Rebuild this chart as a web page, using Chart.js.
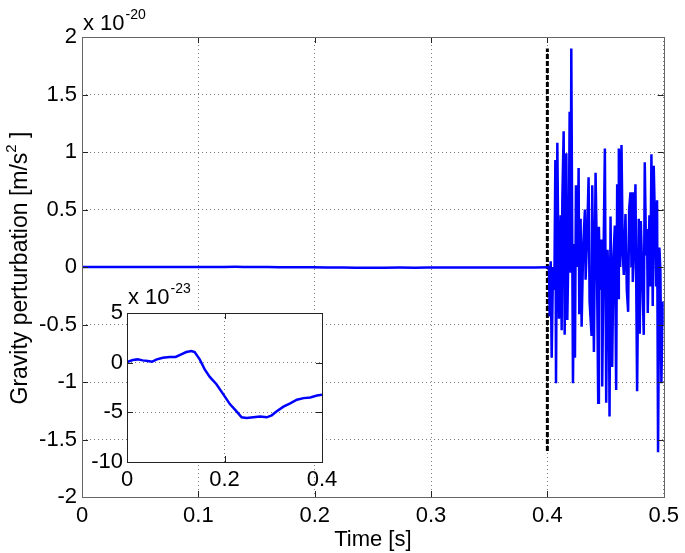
<!DOCTYPE html>
<html>
<head>
<meta charset="utf-8">
<script src="https://cdn.jsdelivr.net/npm/chart.js@4.4.0/dist/chart.umd.min.js"></script>
<style>
  html, body { margin: 0; padding: 0; background: #fff; }
  #wrap { position: relative; width: 685px; height: 553px; }
  #wrap canvas { position: absolute; left: 0; top: 0; }
</style>
</head>
<body>
<div id="wrap">
  <canvas id="main" width="685" height="553"></canvas>
  <canvas id="inset" width="685" height="553"></canvas>
</div>
<script>
// inset series: 0 .. 0.4 s, units of 1e-23 m/s^2
const insetTime = [0, 0.0117, 0.022, 0.0323, 0.0426, 0.0515, 0.0612, 0.0735, 0.0873, 0.0997,
  0.1113, 0.1216, 0.132, 0.1388, 0.1491, 0.1594, 0.1698, 0.1835, 0.1973, 0.211,
  0.2247, 0.2351, 0.2454, 0.2591, 0.2729, 0.2866, 0.2969, 0.3072, 0.321, 0.3347,
  0.3485, 0.3622, 0.3759, 0.3897, 0.4];
const insetValue = [0.07, 0.27, 0.33, 0.23, 0.17, 0.1, 0.33, 0.5, 0.57, 0.57,
  0.83, 1.07, 1.17, 1.07, 0.33, -0.67, -1.43, -2.17, -3.17, -4.17,
  -4.9, -5.5, -5.57, -5.5, -5.43, -5.5, -5.3, -4.9, -4.43, -4.1,
  -3.73, -3.57, -3.5, -3.3, -3.23];

// main series after 0.4 s, units of 1e-20 m/s^2
const noiseTime = [0.40143, 0.402, 0.40286, 0.40371, 0.40486, 0.406, 0.40686, 0.40743, 0.40857, 0.40943,
  0.41, 0.41143, 0.41229, 0.41286, 0.414, 0.41486, 0.41629, 0.41714, 0.41857, 0.41914,
  0.42, 0.42057, 0.42143, 0.422, 0.42314, 0.42371, 0.42457, 0.426, 0.42686, 0.42743,
  0.42857, 0.42943, 0.43086, 0.43229, 0.43286, 0.43429, 0.43543, 0.43629, 0.438, 0.43857,
  0.44, 0.44143, 0.44257, 0.44371, 0.44429, 0.44543, 0.44657, 0.44714, 0.44829, 0.44943,
  0.45057, 0.45171, 0.45286, 0.45343, 0.45429, 0.45571, 0.45686, 0.458, 0.45914, 0.46,
  0.46086, 0.46143, 0.46257, 0.46371, 0.46486, 0.46571, 0.46714, 0.46829, 0.46943, 0.47029,
  0.47143, 0.47229, 0.47286, 0.47343, 0.47457, 0.47571, 0.47714, 0.47857, 0.47943, 0.48029,
  0.48143, 0.48286, 0.48371, 0.48486, 0.48571, 0.48629, 0.48771, 0.48857, 0.48943, 0.49057,
  0.49143, 0.49286, 0.49343, 0.49429, 0.49514, 0.49629, 0.49714, 0.498, 0.49914, 0.5];
const noiseValue = [0.0, -0.43, 0.05, -0.79, 0.0, -0.2, 0.93, -1.01, 1.08, 0.1,
  -0.45, 0.45, -0.55, 0.58, 1.18, -0.59, 0.99, -0.46, 0.45, 1.35,
  -0.05, 1.9, 0.1, -1.01, 0.2, -0.79, 0.71, 0.0, 0.86, -0.41,
  0.42, -0.52, 0.2, 0.5, -0.11, 0.3, 0.78, -0.3, -0.6, 0.71,
  -0.74, 0.82, 0.1, -1.18, 0.35, -0.2, 0.24, -1.04, 0.1, 1.03,
  -1.18, 0.15, -0.2, -1.3, 0.44, -0.87, 0.1, 0.36, -1.07, 0.72,
  -0.27, 1.03, 0.0, 1.06, 0.1, -0.07, 0.46, -0.2, -0.39, 0.5,
  0.65, 0.0, 0.65, -0.13, 0.2, 0.72, -1.08, 0.42, -0.58, 0.4,
  0.0, -0.59, 0.91, 0.1, 0.33, -0.4, 0.45, -0.17, 0.98, -0.34,
  0.88, 0.2, -0.17, 0.58, -1.61, 0.17, -0.03, -1.01, -0.3, -0.51];

const markerTime = 0.4;
const markerRange = [-1.6, 1.9];

const mainXTicks = [0, 0.1, 0.2, 0.3, 0.4, 0.5];
const mainYTicks = [-2, -1.5, -1, -0.5, 0, 0.5, 1, 1.5, 2];
const insetXTicks = [0, 0.2, 0.4];
const insetYTicks = [-10, -5, 0, 5];

const FONT = "'Liberation Sans', Arial, Helvetica, sans-serif";

function fmt(v) {
  if (v === 0) return "0";
  return Number.isInteger(v) ? String(v) : String(Math.round(v * 10) / 10);
}

function fixedTicks(list) {
  return (scale) => { scale.ticks = list.map((v) => ({ value: v })); };
}

// white plot area, box, inward tick marks
const frame = {
  id: "frame",
  beforeDraw(chart) {
    const a = chart.chartArea, c = chart.ctx;
    c.save();
    c.fillStyle = "#fff";
    c.fillRect(a.left, a.top, a.right - a.left, a.bottom - a.top);
    c.restore();
  },
  afterDatasetsDraw(chart) {
    const a = chart.chartArea, c = chart.ctx;
    const xs = chart.scales.x, ys = chart.scales.y;
    c.save();
    c.strokeStyle = "#222";
    c.lineWidth = 1;
    c.beginPath();
    xs.ticks.forEach((t) => {
      const px = Math.round(xs.getPixelForValue(t.value)) + 0.5;
      c.moveTo(px, a.bottom); c.lineTo(px, a.bottom - 6);
      c.moveTo(px, a.top); c.lineTo(px, a.top + 6);
    });
    ys.ticks.forEach((t) => {
      const py = Math.round(ys.getPixelForValue(t.value)) + 0.5;
      c.moveTo(a.left, py); c.lineTo(a.left + 6, py);
      c.moveTo(a.right, py); c.lineTo(a.right - 6, py);
    });
    c.stroke();
    c.strokeStyle = chart.options.frameColor || "#555";
    c.strokeRect(Math.round(a.left) + 0.5, Math.round(a.top) + 0.5,
      Math.round(a.right - a.left), Math.round(a.bottom - a.top));
    c.restore();
  },
};

function drawExponent(c, x, y, exp) {
  c.save();
  c.fillStyle = "#000";
  c.textBaseline = "alphabetic";
  c.textAlign = "left";
  c.font = "22px " + FONT;
  c.fillText("x 10", x, y);
  const w = c.measureText("x 10").width;
  c.font = "14px " + FONT;
  c.fillText(exp, x + w + 1, y - 11);
  c.restore();
}

const mainText = {
  id: "mainText",
  afterDraw(chart) {
    const c = chart.ctx;
    drawExponent(c, 83, 30, "-20");
    // y title with superscript
    c.save();
    c.fillStyle = "#000";
    c.translate(27, 268);
    c.rotate(-Math.PI / 2);
    c.textBaseline = "alphabetic";
    c.textAlign = "left";
    const big = "23px " + FONT, small = "15px " + FONT;
    c.font = big;
    const p1 = "Gravity perturbation [m/s", p3 = " ]";
    const w1 = c.measureText(p1).width, w3 = c.measureText(p3).width;
    c.font = small;
    const w2 = c.measureText("2").width;
    let x = -(w1 + w2 + w3) / 2;
    c.font = big; c.fillText(p1, x, 0); x += w1;
    c.font = small; c.fillText("2", x, -11); x += w2;
    c.font = big; c.fillText(p3, x, 0);
    c.restore();
  },
};

const insetText = {
  id: "insetText",
  afterDraw(chart) {
    drawExponent(chart.ctx, 128, 304, "-23");
  },
};

const gridStyle = { color: "rgba(0,0,0,0.5)", lineWidth: 1, drawTicks: false };
const dotted = { dash: [1, 3] };

const mainData = insetTime.map((t, i) => ({ x: t, y: insetValue[i] / 1000 }))
  .concat(noiseTime.map((t, i) => ({ x: t, y: noiseValue[i] })));

new Chart(document.getElementById("main"), {
  type: "line",
  data: {
    datasets: [
      {
        data: mainData,
        borderColor: "#0000ff",
        borderWidth: 2.5,
        pointRadius: 0,
        tension: 0,
      },
      {
        data: markerRange.map((v) => ({ x: markerTime, y: v })),
        borderColor: "#000",
        borderWidth: 3,
        borderDash: [5, 2],
        pointRadius: 0,
      },
    ],
  },
  options: {
    responsive: false,
    animation: false,
    events: [],
    frameColor: "#666",
    layout: { padding: { left: 0, right: 21, top: 37, bottom: 0 } },
    plugins: { legend: { display: false }, tooltip: { enabled: false } },
    scales: {
      x: {
        type: "linear", min: 0, max: 0.5,
        afterBuildTicks: fixedTicks(mainXTicks),
        afterFit: (s) => { s.height = 56; },
        grid: gridStyle, border: { display: false, ...dotted },
        title: { display: true, text: "Time [s]", color: "#000", font: { family: FONT, size: 22 }, padding: { top: 0, bottom: 0 } },
        ticks: { color: "#000", font: { family: FONT, size: 22 }, padding: 6, callback: fmt, maxRotation: 0 },
      },
      y: {
        type: "linear", min: -2, max: 2,
        afterBuildTicks: fixedTicks(mainYTicks),
        afterFit: (s) => { s.width = 82; },
        grid: gridStyle, border: { display: false, ...dotted },
        ticks: { color: "#000", font: { family: FONT, size: 22 }, padding: 5, callback: fmt },
      },
    },
  },
  plugins: [frame, mainText],
});

new Chart(document.getElementById("inset"), {
  type: "line",
  data: {
    datasets: [{
      data: insetTime.map((t, i) => ({ x: t, y: insetValue[i] })),
      borderColor: "#0000ff",
      borderWidth: 2.5,
      pointRadius: 0,
      tension: 0,
    }],
  },
  options: {
    responsive: false,
    animation: false,
    events: [],
    frameColor: "#222",
    layout: { padding: { left: 0, right: 363, top: 313, bottom: 61 } },
    plugins: { legend: { display: false }, tooltip: { enabled: false } },
    scales: {
      x: {
        type: "linear", min: 0, max: 0.4,
        afterBuildTicks: fixedTicks(insetXTicks),
        afterFit: (s) => { s.height = 30; },
        grid: gridStyle, border: { display: false, ...dotted },
        ticks: { color: "#000", font: { family: FONT, size: 22 }, padding: 5, callback: fmt, maxRotation: 0 },
      },
      y: {
        type: "linear", min: -10, max: 5,
        afterBuildTicks: fixedTicks(insetYTicks),
        afterFit: (s) => { s.width = 127; },
        grid: gridStyle, border: { display: false, ...dotted },
        ticks: { color: "#000", font: { family: FONT, size: 22 }, padding: 4, callback: fmt },
      },
    },
  },
  plugins: [frame, insetText],
});
</script>
</body>
</html>
